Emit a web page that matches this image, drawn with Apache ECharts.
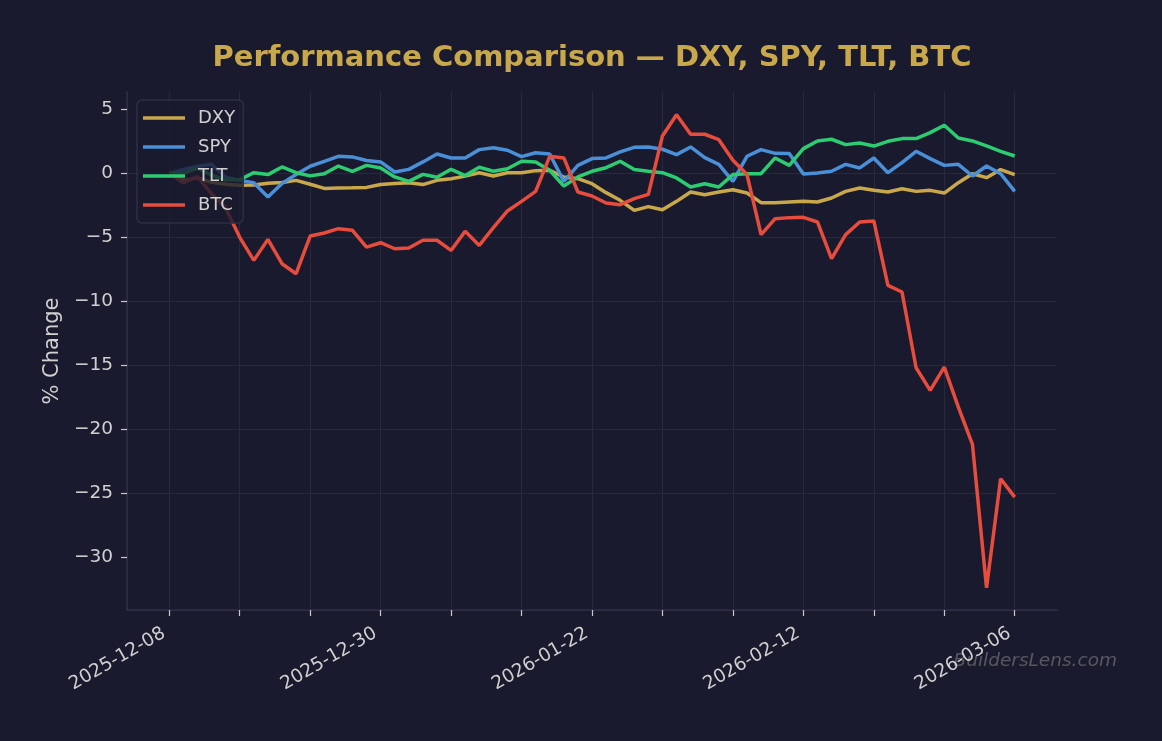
<!DOCTYPE html>
<html>
  <meta charset="UTF-8">
  <title>Performance Comparison</title>
  <style type="text/css">
    html,body{margin:0px;height:100%;width:100%;background:#1a1a2e}
    .container{width:1162px;height:741px}
  </style>
  <script type="text/javascript" src="https://cdn.jsdelivr.net/npm/echarts/dist/echarts.min.js"></script>
  <body>
    <div id="chart" class="container"></div>

    <script>
      // trading days, 2025-12-08 .. 2026-03-06
      var dates = [
        '2025-12-08','2025-12-09','2025-12-10','2025-12-11','2025-12-12',
        '2025-12-15','2025-12-16','2025-12-17','2025-12-18','2025-12-19',
        '2025-12-22','2025-12-23','2025-12-24','2025-12-26','2025-12-29',
        '2025-12-30','2025-12-31','2026-01-02','2026-01-05','2026-01-06',
        '2026-01-07','2026-01-08','2026-01-09','2026-01-12','2026-01-13',
        '2026-01-14','2026-01-15','2026-01-16','2026-01-20','2026-01-21',
        '2026-01-22','2026-01-23','2026-01-26','2026-01-27','2026-01-28',
        '2026-01-29','2026-01-30','2026-02-02','2026-02-03','2026-02-04',
        '2026-02-05','2026-02-06','2026-02-09','2026-02-10','2026-02-11',
        '2026-02-12','2026-02-13','2026-02-17','2026-02-18','2026-02-19',
        '2026-02-20','2026-02-23','2026-02-24','2026-02-25','2026-02-26',
        '2026-02-27','2026-03-02','2026-03-03','2026-03-04','2026-03-05',
        '2026-03-06'
      ];

      // % change vs first day
      var dxy = [
        0, -0.55, -0.35, -0.7, -0.85, -0.94, -0.92, -0.78, -0.72, -0.55,
        -0.85, -1.18, -1.15, -1.13, -1.1, -0.88, -0.8, -0.73, -0.88, -0.55,
        -0.42, -0.22, 0.05, -0.21, 0.05, 0.05, 0.21, 0.23, -0.29, -0.42,
        -0.81, -1.51, -2.11, -2.89, -2.6, -2.84, -2.19, -1.46, -1.67, -1.46,
        -1.28, -1.54, -2.29, -2.29, -2.24, -2.19, -2.24, -1.93, -1.41, -1.15,
        -1.33, -1.46, -1.2, -1.41, -1.33, -1.54, -0.73, -0.03, -0.34, 0.29,
        -0.1
      ];
      var spy = [
        0, 0.3, 0.55, 0.7, -0.3, -0.55, -0.73, -1.85, -0.8, -0.1,
        0.55, 0.94, 1.33, 1.28, 1.0, 0.89, 0.1, 0.31, 0.89, 1.51,
        1.2, 1.2, 1.85, 2.0, 1.8, 1.3, 1.61, 1.51, -0.63, 0.62,
        1.15, 1.2, 1.67, 2.03, 2.06, 1.88, 1.46, 2.06, 1.22, 0.7,
        -0.63, 1.33, 1.85, 1.56, 1.54, -0.05, 0.03, 0.16, 0.7, 0.42,
        1.2, 0.05, 0.83, 1.72, 1.15, 0.62, 0.7, -0.21, 0.57, -0.03,
        -1.41
      ];
      var tlt = [
        0, 0, 0.4, -0.15, -0.5, -0.5, 0.05, -0.1, 0.5, 0.05,
        -0.2, -0.03, 0.57, 0.16, 0.62, 0.42, -0.28, -0.63, -0.08, -0.31,
        0.31, -0.18, 0.47, 0.16, 0.36, 0.94, 0.89, 0.23, -0.99, -0.28,
        0.16, 0.44, 0.94, 0.3, 0.16, 0.05, -0.36, -1.07, -0.81, -1.07,
        -0.1, -0.03, -0.03, 1.2, 0.62, 1.93, 2.53, 2.66, 2.24, 2.37,
        2.13, 2.5, 2.71, 2.71, 3.18, 3.75, 2.76, 2.53, 2.14, 1.72,
        1.35
      ];
      var btc = [
        0, -0.75, -0.25, -1.6, -2.7, -5.0, -6.8, -5.16, -7.06, -7.84,
        -4.9, -4.66, -4.32, -4.45, -5.76, -5.42, -5.89, -5.83, -5.23, -5.23,
        -6.02, -4.53, -5.63, -4.24, -2.94, -2.19, -1.41, 1.33, 1.2, -1.46,
        -1.77, -2.32, -2.45, -1.98, -1.64, 2.92, 4.58, 3.05, 3.05, 2.63,
        1.02, -0.1, -4.79, -3.54, -3.46, -3.44, -3.8, -6.67, -4.79, -3.8,
        -3.72, -8.75, -9.27, -15.18, -16.95, -15.13, -18.26, -21.17, -32.37, -23.85,
        -25.29
      ];
      var yTicks = [-30, -25, -20, -15, -10, -5, 0, 5];

      // blank slots either side give the 5% side margins
      var PAD = 3;
      var cats = ['_a', '_b', '_c'].concat(dates, ['_x', '_y', '_z']);
      function pad(arr) { return [null, null, null].concat(arr, [null, null, null]); }
      function isTick(i) { return i >= PAD && i <= PAD + 60 && (i - PAD) % 5 === 0; }
      function isLabel(i) { return i >= PAD && i <= PAD + 60 && (i - PAD) % 15 === 0; }

      var txt = '#d0d0d0';
      var gridColor = '#29293d';
      var spineColor = '#30304a';

      var chart = echarts.init(document.getElementById('chart'));
      var names = ['DXY', 'SPY', 'TLT', 'BTC'];
      var colors = ['#c9a84c', '#4a90d9', '#2ecc71', '#e74c3c'];
      var values = [dxy, spy, tlt, btc];

      var option = {
        backgroundColor: '#1a1a2e',
        animation: false,
        title: {
          text: 'Performance Comparison \u2014 DXY, SPY, TLT, BTC',
          left: 592,
          top: 44,
          padding: 0,
          textAlign: 'center',
          textStyle: {
            color: '#c9a84c',
            fontFamily: 'DejaVu Sans',
            fontWeight: 'bold',
            fontSize: 29
          }
        },
        legend: {
          orient: 'vertical',
          left: 137,
          top: 100,
          padding: [8, 8, 8, 6],
          itemGap: 9,
          itemWidth: 42,
          itemHeight: 3.5,
          icon: 'rect',
          backgroundColor: 'rgba(26,26,46,0.8)',
          borderColor: '#2e2e46',
          borderWidth: 1.5,
          borderRadius: 5,
          textStyle: { color: txt, fontFamily: 'DejaVu Sans', fontSize: 18, lineHeight: 20, padding: [0, 0, 0, 8] },
          data: names
        },
        grid: { left: 127, right: 105, top: 92, bottom: 131 },
        xAxis: {
          type: 'category',
          data: cats,
          boundaryGap: false,
          axisLine: { onZero: false, lineStyle: { color: spineColor, width: 1.5 } },
          axisTick: { interval: function (i) { return isTick(i); }, length: 6, lineStyle: { color: '#c8c8c8', width: 1.2 } },
          axisLabel: {
            interval: function (i) { return isLabel(i); },
            rotate: 30,
            margin: 19,
            padding: [0, 6, 0, 0],
            color: txt,
            fontFamily: 'DejaVu Sans',
            fontSize: 18.5
          },
          splitLine: { show: true, interval: function (i) { return isTick(i); }, lineStyle: { color: gridColor, width: 1 } }
        },
        yAxis: {
          type: 'value',
          min: -34.1,
          max: 6.35,
          splitNumber: 8,
          name: '% Change',
          nameLocation: 'middle',
          nameGap: 61,
          nameTextStyle: { color: txt, fontFamily: 'DejaVu Sans', fontSize: 21 },
          axisLine: { show: true, lineStyle: { color: spineColor, width: 1.5 } },
          axisTick: { show: true, customValues: yTicks, length: 6, lineStyle: { color: '#c8c8c8', width: 1.2 } },
          axisLabel: {
            customValues: yTicks,
            margin: 14,
            color: txt,
            fontFamily: 'DejaVu Sans',
            fontSize: 18.5,
            formatter: function (v) { return v < 0 ? '\u2212' + Math.abs(v) : String(v); }
          },
          splitLine: { show: true, showMinLine: false, showMaxLine: false, lineStyle: { color: gridColor, width: 1 } }
        },
        graphic: [{
          type: 'text',
          right: 45,
          top: 652,
          style: {
            text: 'BuildersLens.com',
            fill: 'rgba(128,128,128,0.6)',
            font: 'italic 18.5px "DejaVu Sans"'
          }
        }],
        series: names.map(function (n, k) {
          return {
            name: n,
            type: 'line',
            data: pad(values[k]),
            showSymbol: false,
            color: colors[k],
            lineStyle: { width: 3.5, color: colors[k] },
            emphasis: { disabled: true }
          };
        })
      };
      chart.setOption(option);
    </script>
  </body>
</html>
